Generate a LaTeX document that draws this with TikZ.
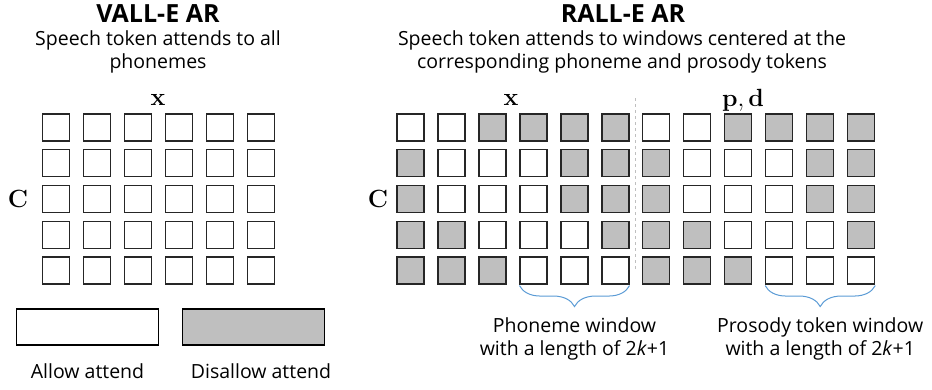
\documentclass[tikz,border=0pt]{standalone}
\usepackage[no-math]{fontspec}
\setsansfont{Open Sans}
\usepackage{amsmath}
\usetikzlibrary{%
  positioning,%
  calc,%
  decorations.pathreplacing% braces
}
\definecolor{blockgray}{RGB}{191,191,191}
\definecolor{bracecol}{RGB}{91,155,213}

\begin{document}
\begin{tikzpicture}
[x=1pt, y=-1pt, font=\sffamily\fontsize{19.5}{23}\selectfont, line width=1.1pt,
attend/.style={rectangle, draw=black!85, fill=white, inner sep=0pt, minimum size=27pt},
noattend/.style={attend, fill=blockgray},
legbox/.style={rectangle, draw=black, line width=1.3pt, inner sep=0pt, minimum width=142pt, minimum height=36pt},
title/.style={font=\sffamily\bfseries\fontsize{25}{28}\selectfont},
sub/.style={align=center},
sym/.style={font=\fontsize{27}{29}\selectfont},
win/.style={decorate, decoration={brace, mirror, amplitude=21pt}, draw=bracecol, line width=1pt}]

\useasboundingbox (0,0) rectangle (932,390);

% titles
\node[title] (tva) at (158,14) {VALL-E AR};
\node[sub] (sva) at (158,52) {Speech token attends to all\\phonemes};
\node[title] (tra) at (623,14) {RALL-E AR};
\node[sub] (sra) at (622,52) {Speech token attends to windows centered at the\\corresponding phoneme and prosody tokens};

% VALL-E: every cell allowed
\foreach \r in {0,...,4} {
  \foreach \c in {0,...,5} {
    \node[attend] (va\r\c) at (55.8+41*\c,127.5+35.75*\r) {};
  }
}

% RALL-E: windows of allowed cells per row
\foreach \r/\lo/\hi in {0/0/1, 1/1/3, 2/1/3, 3/2/4, 4/3/5} {
  \foreach \c in {0,...,5} {
    \pgfmathtruncatemacro\off{(\c<\lo)||(\c>\hi)}
    \ifnum\off=1 \def\sty{noattend}\else\def\sty{attend}\fi
    \node[\sty] (ra\r\c) at (410.5+41*\c,127.5+35.75*\r) {};
    \node[\sty] (rb\r\c) at (656.2+41*\c,127.5+35.75*\r) {};
  }
}

\node[sym] (xva) at (158,100) {$\mathbf{x}$};
\node[sym] (cva) at (18,199) {$\mathbf{C}$};
\node[sym] (xra) at (511,100) {$\mathbf{x}$};
\node[sym] (pd) at (743,100) {$\mathbf{p},\mathbf{d}$};
\node[sym] (cra) at (378,199) {$\mathbf{C}$};

% separator
\draw[dashed, draw=black!25, line width=1pt] ($(ra05.east)!0.5!(rb00.west)$) ++(0,-29) coordinate (septop)
  -- ($(ra45.east)!0.5!(rb40.west)$) ++(0,30) coordinate (sepbot);

% windows
\draw[win] ([yshift=-1pt]ra43.south west) -- ([yshift=-1pt]ra45.south east) node[midway, below=30pt, align=center, inner sep=2pt] (wph) {Phoneme window\\with a length of 2\textit{k}+1};
\draw[win] ([yshift=-1pt]rb43.south west) -- ([yshift=-1pt]rb45.south east) node[midway, below=30pt, align=center, inner sep=2pt] (wpr) {Prosody token window\\with a length of 2\textit{k}+1};

% legend
\node[legbox, fill=white] (lal) at (87.7,327) {};
\node[legbox, fill=blockgray] (ldis) at (253.8,327) {};
\node (tal) at (87.5,371) {Allow attend};
\node (tdis) at (261,371) {Disallow attend};
\end{tikzpicture}
\end{document}
